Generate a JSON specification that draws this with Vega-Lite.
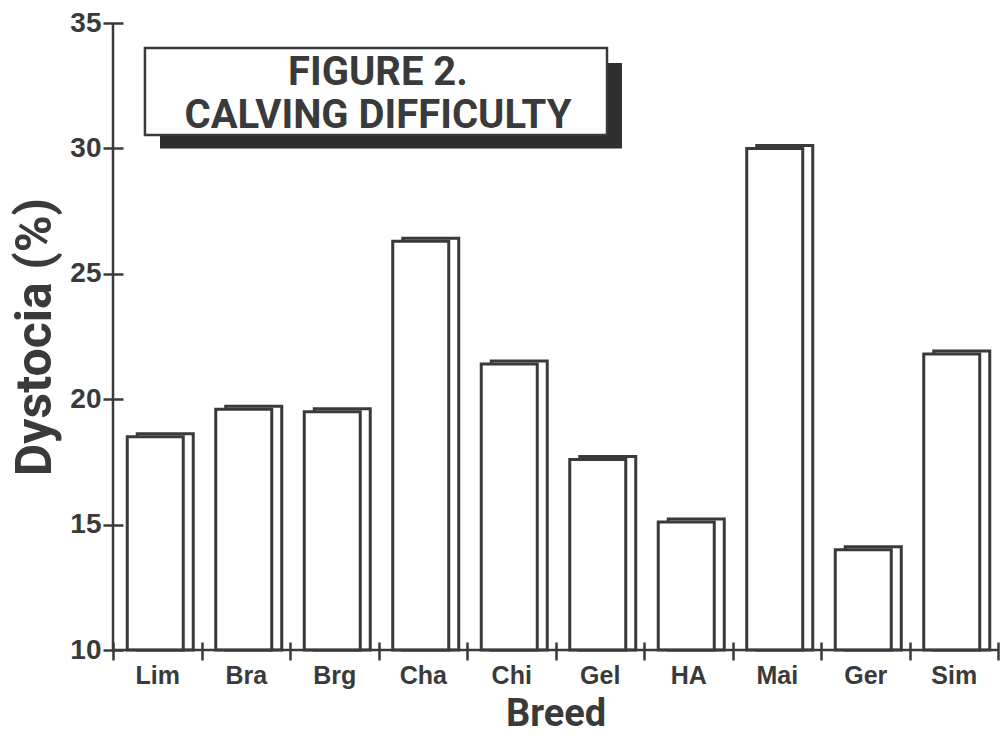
{
  "$schema": "https://vega.github.io/schema/vega-lite/v6.json",
  "width": 885,
  "height": 627,
  "autosize": "none",
  "padding": {"left": 113, "top": 23, "right": 6, "bottom": 88},
  "background": "white",
  "config": {
    "view": {"stroke": null},
    "axis": {
      "labelFont": "Liberation Sans",
      "labelFontWeight": "bold",
      "labelColor": "#3a3a3a",
      "titleFont": "Roboto",
      "titleFontWeight": "bold",
      "titleColor": "#3a3a3a",
      "tickColor": "#3a3a3a",
      "tickWidth": 2.5,
      "domain": false,
      "grid": false
    }
  },
  "data": {
    "values": [
      {"breed": "Lim", "dystocia": 18.5},
      {"breed": "Bra", "dystocia": 19.6},
      {"breed": "Brg", "dystocia": 19.5},
      {"breed": "Cha", "dystocia": 26.3},
      {"breed": "Chi", "dystocia": 21.4},
      {"breed": "Gel", "dystocia": 17.6},
      {"breed": "HA", "dystocia": 15.1},
      {"breed": "Mai", "dystocia": 30.0},
      {"breed": "Ger", "dystocia": 14.0},
      {"breed": "Sim", "dystocia": 21.8}
    ]
  },
  "resolve": {"scale": {"x": "independent"}},
  "layer": [
    {
      "description": "back face of each box, giving the 3-D side and top",
      "mark": {"type": "bar", "width": 56, "xOffset": 8, "yOffset": -3, "fill": "white", "stroke": "#3a3a3a", "strokeWidth": 3},
      "encoding": {
        "x": {
          "field": "breed", "type": "nominal", "sort": null,
          "scale": {"paddingInner": 0, "paddingOuter": 0},
          "axis": {
            "orient": "bottom", "title": "Breed", "labelAngle": 0,
            "tickBand": "extent", "tickSize": 18, "offset": -8,
            "labelFontSize": 25, "labelPadding": 3,
            "titleFontSize": 38, "titlePadding": 7
          }
        },
        "y": {
          "field": "dystocia", "type": "quantitative",
          "scale": {"domain": [10, 35], "zero": false, "nice": false},
          "axis": {
            "orient": "left", "title": "Dystocia (%)", "values": [10, 15, 20, 25, 30, 35],
            "tickSize": 20, "offset": -10, "labelFontSize": 28, "labelPadding": 2,
            "titleFontSize": 50, "titlePadding": 9
          }
        },
        "y2": {"datum": 10}
      }
    },
    {
      "description": "front face of each box",
      "mark": {"type": "bar", "width": 56, "xOffset": -2, "fill": "white", "stroke": "#3a3a3a", "strokeWidth": 3},
      "encoding": {
        "x": {"field": "breed", "type": "nominal", "sort": null, "axis": null},
        "y": {"field": "dystocia", "type": "quantitative"},
        "y2": {"datum": 10}
      }
    },
    {
      "description": "vertical axis line",
      "data": {"values": [{}]},
      "mark": {"type": "rule", "color": "#3a3a3a", "strokeWidth": 2.5},
      "encoding": {
        "x": {"datum": 0, "type": "quantitative", "scale": {"domain": [0, 10]}, "axis": null},
        "y": {"datum": 10, "type": "quantitative"},
        "y2": {"datum": 35}
      }
    },
    {
      "description": "horizontal axis line",
      "data": {"values": [{}]},
      "mark": {"type": "rule", "color": "#3a3a3a", "strokeWidth": 2.5},
      "encoding": {
        "x": {"datum": 0, "type": "quantitative", "scale": {"domain": [0, 10]}, "axis": null},
        "x2": {"datum": 10},
        "y": {"datum": 10, "type": "quantitative"}
      }
    },
    {
      "description": "drop shadow behind the figure caption",
      "data": {"values": [{}]},
      "mark": {"type": "rect", "fill": "#2e2e2e"},
      "encoding": {
        "x": {"datum": 0.531, "type": "quantitative", "scale": {"domain": [0, 10]}, "axis": null},
        "x2": {"datum": 5.751},
        "y": {"datum": 33.405, "type": "quantitative"},
        "y2": {"datum": 30.0}
      }
    },
    {
      "description": "caption box",
      "data": {"values": [{}]},
      "mark": {"type": "rect", "fill": "white", "stroke": "#3a3a3a", "strokeWidth": 2.5},
      "encoding": {
        "x": {"datum": 0.361, "type": "quantitative", "scale": {"domain": [0, 10]}, "axis": null},
        "x2": {"datum": 5.582},
        "y": {"datum": 34.003, "type": "quantitative"},
        "y2": {"datum": 30.535}
      }
    },
    {
      "description": "caption, first line",
      "data": {"values": [{}]},
      "mark": {
        "type": "text", "text": "FIGURE 2.",
        "font": "Roboto", "fontWeight": "bold", "fontSize": 40,
        "align": "center", "baseline": "alphabetic", "color": "#3a3a3a"
      },
      "encoding": {
        "x": {"datum": 2.994, "type": "quantitative", "scale": {"domain": [0, 10]}, "axis": null},
        "y": {"datum": 32.528, "type": "quantitative"}
      }
    },
    {
      "description": "caption, second line",
      "data": {"values": [{}]},
      "mark": {
        "type": "text", "text": "CALVING DIFFICULTY",
        "font": "Roboto", "fontWeight": "bold", "fontSize": 40,
        "align": "center", "baseline": "alphabetic", "color": "#3a3a3a"
      },
      "encoding": {
        "x": {"datum": 2.994, "type": "quantitative", "scale": {"domain": [0, 10]}, "axis": null},
        "y": {"datum": 30.813, "type": "quantitative"}
      }
    }
  ]
}
